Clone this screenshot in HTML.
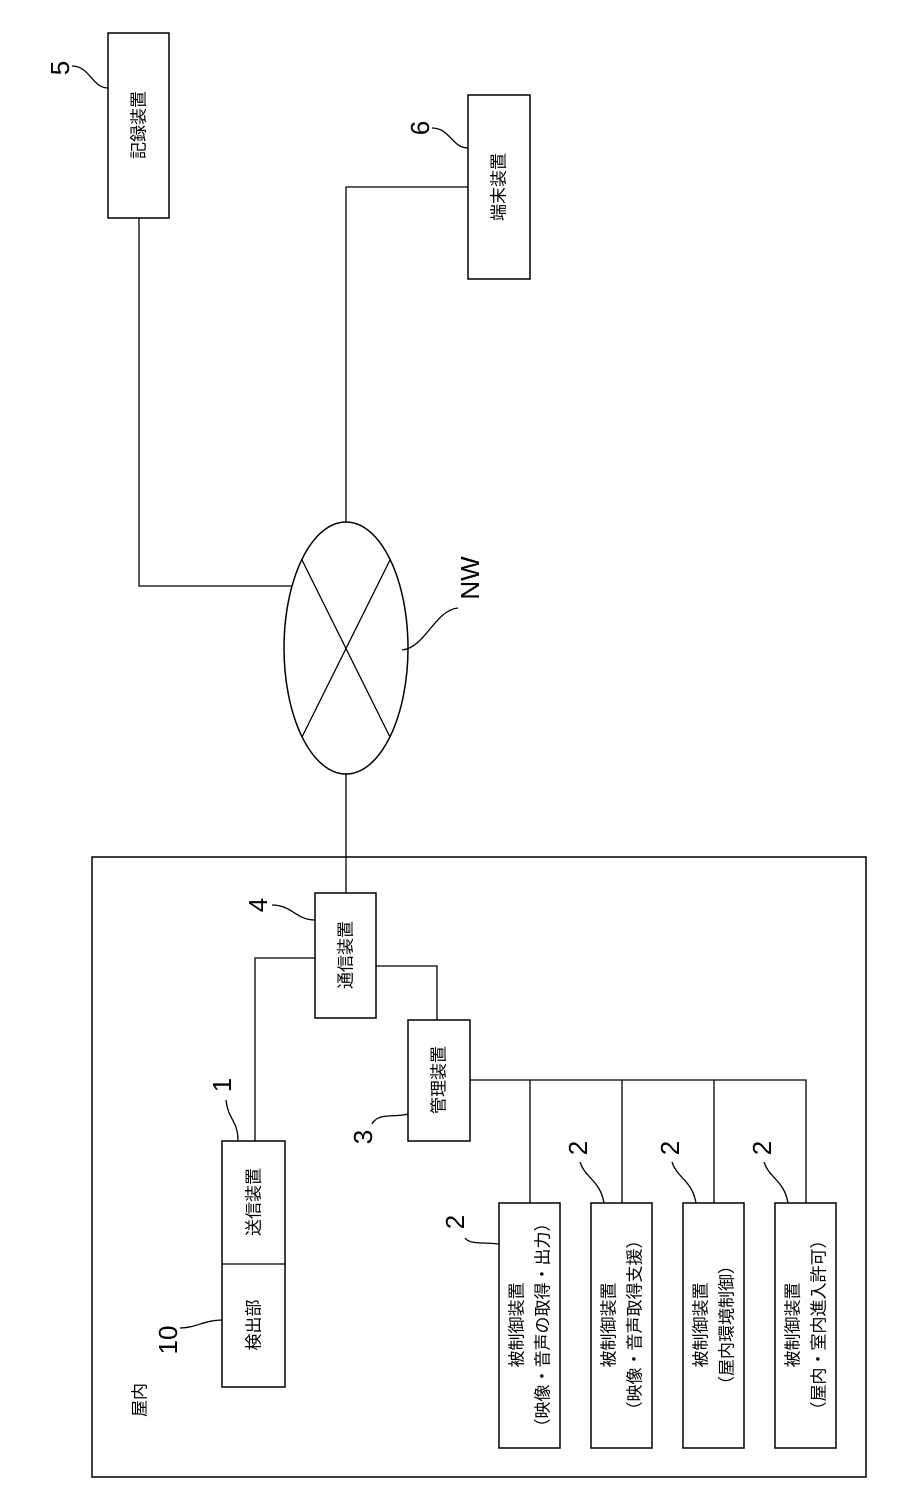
<!DOCTYPE html>
<html><head><meta charset="utf-8"><style>
html,body{margin:0;padding:0;background:#fff;}
svg{display:block;}
text{font-family:"Liberation Sans","Noto Sans CJK JP",sans-serif;fill:#000;}
.b{fill:#fff;stroke:#000;stroke-width:1.5;}
.l{fill:none;stroke:#000;stroke-width:1.3;}
.t{font-size:17px;text-anchor:middle;dominant-baseline:central;}
.n{font-size:26px;text-anchor:middle;dominant-baseline:central;}
</style></head><body>
<svg width="913" height="1512" viewBox="0 0 913 1512">
<!-- outer -->
<rect class="b" x="92" y="857" width="774" height="620"/>
<!-- lines -->
<polyline class="l" points="139,218 139,586 295,586"/>
<polyline class="l" points="468,187 346,187 346,522"/>
<line class="l" x1="346" y1="774" x2="346" y2="893"/>
<polyline class="l" points="315,958 255,958 255,1141"/>
<polyline class="l" points="376,966 437,966 437,1020"/>
<polyline class="l" points="470,1080 806,1080 806,1203"/>
<line class="l" x1="530" y1="1080" x2="530" y2="1203"/>
<line class="l" x1="622" y1="1080" x2="622" y2="1203"/>
<line class="l" x1="714" y1="1080" x2="714" y2="1203"/>
<!-- ellipse -->
<ellipse class="b" cx="346" cy="648" rx="62" ry="126"/>
<line class="l" x1="302" y1="560" x2="390" y2="737"/>
<line class="l" x1="390" y1="560" x2="302" y2="737"/>
<!-- boxes -->
<rect class="b" x="108" y="33" width="61" height="185"/>
<rect class="b" x="468" y="95" width="62" height="184"/>
<rect class="b" x="315" y="893" width="61" height="125"/>
<rect class="b" x="408" y="1020" width="62" height="121"/>
<rect class="b" x="222" y="1141" width="63" height="246"/>
<line class="l" x1="222" y1="1264" x2="285" y2="1264"/>
<rect class="b" x="499" y="1203" width="61" height="245"/>
<rect class="b" x="591" y="1203" width="61" height="245"/>
<rect class="b" x="683" y="1203" width="61" height="245"/>
<rect class="b" x="775" y="1203" width="61" height="245"/>
<!-- leaders -->
<path class="l" d="M72,66 C90,66 92,88 108,88"/>
<path class="l" d="M432,128 C450,128 452,148 468,148"/>
<path class="l" d="M402,650 C425,648 435,610 458,608"/>
<path class="l" d="M272,905 C292,905 296,920 315,920"/>
<path class="l" d="M226,1100 C228,1120 238,1120 238,1141"/>
<path class="l" d="M372,1124 C378,1112 395,1118 408,1114"/>
<path class="l" d="M180,1328 C195,1328 205,1320 222,1320"/>
<path class="l" d="M465,1238 C470,1245 485,1242 499,1244"/>
<path class="l" d="M580,1162 C585,1178 600,1180 604,1203"/>
<path class="l" d="M672,1162 C677,1178 692,1180 696,1203"/>
<path class="l" d="M764,1162 C769,1178 784,1180 788,1203"/>
<!-- texts -->
<g class="t">
<text class="t" transform="translate(139,125) rotate(-90)">記録装置</text>
<text class="t" transform="translate(499,187) rotate(-90)">端末装置</text>
<text class="t" transform="translate(346,955) rotate(-90)">通信装置</text>
<text class="t" transform="translate(439,1080) rotate(-90)">管理装置</text>
<text class="t" transform="translate(254,1202) rotate(-90)">送信装置</text>
<text class="t" transform="translate(254,1325) rotate(-90)">検出部</text>
<text class="t" transform="translate(140,1400) rotate(-90)">屋内</text>
<text class="t" transform="translate(517,1325) rotate(-90)">被制御装置</text>
<text class="t" transform="translate(543,1325) rotate(-90)">（映像・音声の取得・出力）</text>
<text class="t" transform="translate(609,1325) rotate(-90)">被制御装置</text>
<text class="t" transform="translate(635,1325) rotate(-90)">（映像・音声取得支援）</text>
<text class="t" transform="translate(701,1325) rotate(-90)">被制御装置</text>
<text class="t" transform="translate(727,1325) rotate(-90)">（屋内環境制御）</text>
<text class="t" transform="translate(793,1325) rotate(-90)">被制御装置</text>
<text class="t" transform="translate(819,1325) rotate(-90)">（屋内・室内進入許可）</text>
</g>
<text class="n" transform="translate(60,68) rotate(-90)">5</text>
<text class="n" transform="translate(420,128) rotate(-90)">6</text>
<text class="n" transform="translate(470,578) rotate(-90)">NW</text>
<text class="n" transform="translate(258,905) rotate(-90)">4</text>
<text class="n" transform="translate(222,1085) rotate(-90)">1</text>
<text class="n" transform="translate(363,1137) rotate(-90)">3</text>
<text class="n" transform="translate(168,1340) rotate(-90)">10</text>
<text class="n" transform="translate(455,1222) rotate(-90)">2</text>
<text class="n" transform="translate(578,1148) rotate(-90)">2</text>
<text class="n" transform="translate(670,1148) rotate(-90)">2</text>
<text class="n" transform="translate(762,1148) rotate(-90)">2</text>
</svg>
</body></html>
